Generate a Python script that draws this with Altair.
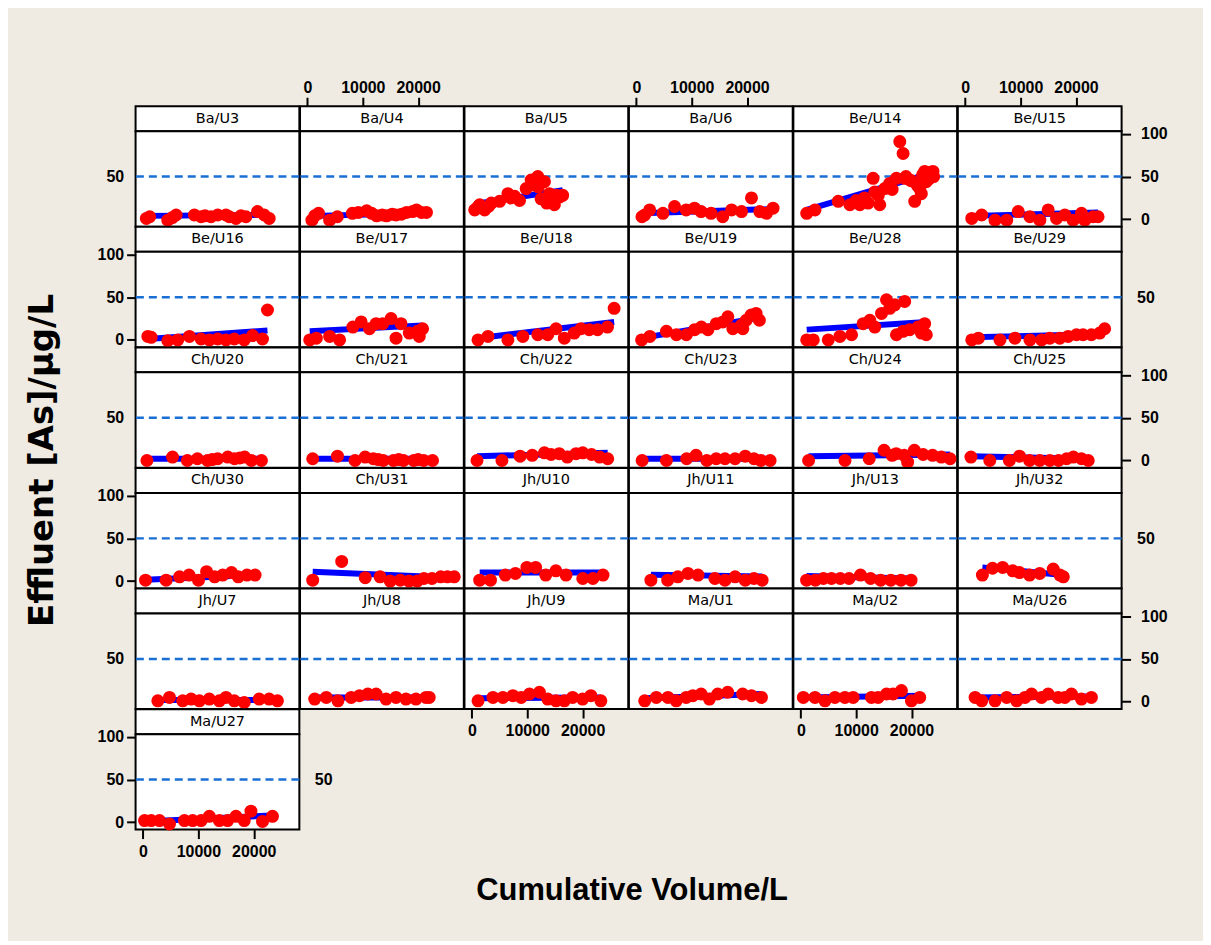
import altair as alt
import pandas as pd

# ---------------- data ----------------
PANELS = ["Ba/U3", "Ba/U4", "Ba/U5", "Ba/U6", "Be/U14", "Be/U15",
          "Be/U16", "Be/U17", "Be/U18", "Be/U19", "Be/U28", "Be/U29",
          "Ch/U20", "Ch/U21", "Ch/U22", "Ch/U23", "Ch/U24", "Ch/U25",
          "Ch/U30", "Ch/U31", "Jh/U10", "Jh/U11", "Jh/U13", "Jh/U32",
          "Jh/U7", "Jh/U8", "Jh/U9", "Ma/U1", "Ma/U2", "Ma/U26",
          "Ma/U27"]

# fitted line value at first and last volume of each unit
FIT_LEFT = [4, 4, 18, 7, 11, 4,
            1, 10, 2, 2, 12, 3,
            2, 2, 5, 2, 5, 5,
            1.5, 11, 10, 7.5, 6, 16,
            2, 5, 4, 4, 5, 5,
            1]
FIT_RIGHT = [5, 7, 34, 12, 55, 8,
             11, 17, 21, 26, 21, 7,
             2, 2, 9, 2, 7, 2,
             7, 4, 10, 5.5, 3, 7,
             2, 5, 5, 9, 7, 6,
             8]

X_TICKS = [0, 10000, 20000]
Y_TICKS = [0, 50, 100]
LIMIT = [50]

vol_ba_u3 = [600, 1200, 4470, 5300, 5980, 9280, 10490, 11200, 12290, 13500, 14990, 15590, 16790, 17700, 18590, 20690, 21900, 22800]
as_ba_u3 = [1, 3, -1, 2, 5, 5, 3, 4, 3, 5, 5, 3, 1, 4, 3, 9, 5, 1]
vol_ba_u4 = [800, 1300, 2000, 4000, 5400, 8100, 9200, 10700, 11600, 12500, 13500, 14300, 15300, 16000, 17000, 17900, 19000, 19700, 20600, 21500]
as_ba_u4 = [-1, 4, 7, -1, 3, 7, 8, 10, 7, 4, 5, 4, 6, 5, 6, 8, 9, 11, 8, 8]
vol_ba_u5 = [500, 1000, 1400, 2300, 3000, 3500, 5000, 6500, 7000, 7700, 8600, 9800, 10700, 11200, 11900, 12000, 12500, 13100, 13500, 14000, 14500, 14900, 15300, 15800, 16400]
as_ba_u5 = [11, 14, 17, 11, 15, 19, 21, 30, 25, 27, 22, 36, 46, 40, 50, 38, 24, 44, 19, 30, 22, 17, 28, 26, 28]
vol_ba_u6 = [1000, 1500, 2400, 4800, 6900, 9000, 10500, 11700, 13500, 15600, 17200, 19000, 20800, 22300, 23500, 24700]
as_ba_u6 = [3, 5, 11, 7, 15, 11, 13, 9, 7, 3, 11, 9, 25, 9, 7, 13]
vol_be_u14 = [1060, 2560, 6760, 8860, 10000, 10660, 11500, 12160, 13060, 13360, 14000, 14260, 15160, 16060, 16500, 17260, 17880, 18480, 18780, 19000, 19680, 20000, 20580, 21000, 21480, 21780, 22000, 22380, 22680, 23280, 23500, 23880, 24000]
as_be_u14 = [7, 11, 21, 17, 22, 17, 25, 19, 48, 32, 28, 17, 36, 42, 35, 48, 91, 77, 48, 50, 46, 45, 21, 40, 36, 30, 52, 56, 44, 48, 55, 56, 50]
vol_be_u15 = [1170, 2970, 5370, 7480, 9570, 11680, 13480, 14980, 16490, 17990, 19490, 21000, 21600, 23100, 24000]
as_be_u15 = [1, 5, -1, -1, 9, 3, -1, 11, 1, 5, -1, 7, -1, 3, 3]
vol_be_u16 = [870, 1480, 4470, 6270, 8380, 10490, 12000, 13490, 15000, 16500, 18290, 19790, 21590, 22490]
as_be_u16 = [4, 3, -1, 0, 4, 1, 0, 1, 0, 1, 0, 5, 1, 35]
vol_be_u17 = [400, 1600, 4000, 5800, 8200, 9700, 11200, 12400, 13600, 15100, 16000, 16900, 18400, 19900, 20800, 20200]
as_be_u17 = [0, 2, 4, 0, 15, 21, 13, 19, 19, 25, 2, 19, 8, 10, 13, 4]
vol_be_u18 = [1100, 2900, 6500, 9200, 11900, 13700, 15200, 16700, 18500, 19700, 21200, 22700, 24500, 25700]
as_be_u18 = [0, 4, 0, 4, 6, 6, 13, 2, 8, 13, 12, 12, 15, 37]
vol_be_u19 = [940, 2430, 5430, 7240, 9040, 10530, 11740, 12930, 14440, 15630, 16530, 17430, 18940, 19240, 19840, 20740, 21640, 22230]
as_be_u19 = [0, 4, 10, 6, 6, 12, 15, 12, 19, 21, 27, 13, 17, 13, 23, 29, 31, 23]
vol_be_u28 = [1060, 2250, 4960, 7060, 9170, 11260, 12470, 13370, 14580, 15480, 16070, 16970, 17280, 18480, 18770, 19680, 21180, 21780, 22380, 22680]
as_be_u28 = [0, 0, 0, 4, 6, 19, 23, 15, 31, 47, 37, 41, 6, 10, 45, 12, 15, 8, 19, 6]
vol_be_u29 = [1170, 2360, 6270, 8970, 11680, 13790, 15280, 17080, 18580, 20090, 21280, 22790, 24290, 25190]
as_be_u29 = [0, 2, 0, 2, 0, 0, 2, 2, 4, 6, 6, 6, 8, 13]
vol_ch_u20 = [700, 5330, 8000, 9830, 11660, 12500, 13490, 15310, 16530, 17500, 18360, 19580, 21400]
as_ch_u20 = [0, 4, 0, 2, 0, 1, 2, 4, 2, 3, 4, 0, 0]
vol_ch_u21 = [940, 5420, 8590, 10420, 11880, 12800, 13710, 15540, 16500, 17360, 19190, 20000, 21020, 22600]
as_ch_u21 = [2, 5, 0, 4, 2, 1, 0, 0, 1, 0, 0, 1, 0, 0]
vol_ch_u22 = [910, 5420, 8700, 10900, 13100, 14310, 15770, 17230, 18820, 20030, 21620, 23080, 24540]
as_ch_u22 = [0, 0, 5, 6, 9, 7, 8, 4, 8, 9, 7, 4, 2]
vol_ch_u23 = [1040, 5420, 9080, 10780, 12730, 14430, 16010, 17840, 19670, 21250, 22470, 24170]
as_ch_u23 = [0, 0, 2, 6, 0, 2, 2, 2, 5, 2, 0, 0]
vol_ch_u24 = [1400, 7980, 12360, 15040, 16500, 17230, 18690, 19300, 20520, 22100, 23810, 25400, 26980]
as_ch_u24 = [0, 0, 2, 12, 6, 8, 6, -2, 12, 7, 6, 4, 2]
vol_ch_u25 = [1020, 4430, 7970, 9800, 11620, 13450, 15280, 16860, 18320, 19540, 21000, 22220]
as_ch_u25 = [4, 0, 0, 5, 0, 0, 0, 0, 2, 4, 2, 0]
vol_ch_u30 = [450, 4170, 6600, 8310, 10020, 11480, 12940, 14400, 15990, 17200, 18790, 20250]
as_ch_u30 = [1, 1, 5, 7, 1, 11, 5, 7, 10, 5, 7, 7]
vol_ch_u31 = [940, 6180, 10440, 13120, 14950, 16770, 18360, 19820, 21040, 22500, 24080, 25300, 26520]
as_ch_u31 = [1, 23, 4, 5, 0, 1, 0, 0, 3, 3, 5, 5, 5]
vol_jh_u10 = [1400, 3350, 6030, 7860, 9930, 11510, 13340, 15170, 17000, 20030, 21860, 23690]
as_jh_u10 = [1, 1, 7, 9, 16, 16, 7, 12, 7, 3, 3, 7]
vol_jh_u11 = [2620, 5660, 7490, 9320, 11140, 14190, 16010, 17840, 19670, 21250, 22720]
as_jh_u11 = [1, 1, 5, 9, 7, 3, 1, 5, 1, 3, 1]
vol_jh_u13 = [1040, 2620, 4080, 5540, 7130, 8710, 10780, 12610, 14430, 16260, 18090, 19920]
as_jh_u13 = [1, 1, 3, 3, 3, 3, 7, 3, 1, 1, 1, 1]
vol_jh_u32 = [3090, 4920, 6750, 8580, 9790, 11620, 13450, 15890, 17110, 17720]
as_jh_u32 = [7, 15, 16, 12, 10, 7, 9, 14, 7, 5]
vol_jh_u7 = [2670, 4780, 7170, 8690, 10180, 11980, 13790, 14990, 16490, 18290, 20990, 22790, 24290]
as_jh_u7 = [1, 5, 1, 3, 1, 3, 1, 5, 1, -1, 3, 3, 1]
vol_jh_u8 = [1300, 3400, 5500, 7900, 9400, 10900, 12400, 14200, 16000, 17800, 19600, 21400, 22000]
as_jh_u8 = [3, 5, 1, 5, 7, 9, 9, 3, 5, 3, 3, 5, 5]
vol_jh_u9 = [1100, 3800, 5600, 7400, 8900, 10400, 12200, 13700, 15200, 16700, 18200, 20000, 21500, 23300]
as_jh_u9 = [1, 5, 5, 7, 5, 9, 11, 3, 1, 1, 5, 3, 7, 1]
vol_ma_u1 = [1500, 3600, 5700, 7200, 9000, 10200, 11700, 13200, 14700, 16500, 19200, 20800, 22600]
as_ma_u1 = [1, 5, 5, 1, 5, 7, 9, 3, 9, 11, 9, 7, 5]
vol_ma_u2 = [450, 2560, 4360, 6160, 7960, 9460, 12770, 13970, 15480, 16670, 18180, 19980, 21480]
as_ma_u2 = [5, 5, 1, 5, 5, 5, 5, 5, 9, 9, 13, 1, 5]
vol_ma_u26 = [1770, 2970, 5370, 7480, 9280, 10780, 11980, 13780, 14980, 16780, 17990, 19190, 20990, 22790]
as_ma_u26 = [5, 1, 1, 5, 1, 5, 9, 5, 9, 5, 5, 9, 3, 5]
vol_ma_u27 = [270, 1480, 2970, 4780, 7480, 8970, 10490, 11980, 13790, 15280, 16790, 18290, 19500, 21590, 23390]
as_ma_u27 = [2, 2, 2, -2, 2, 2, 2, 7, 2, 2, 7, 2, 13, 1, 7]

VOLUMES = [vol_ba_u3, vol_ba_u4, vol_ba_u5, vol_ba_u6, vol_be_u14, vol_be_u15,
           vol_be_u16, vol_be_u17, vol_be_u18, vol_be_u19, vol_be_u28, vol_be_u29,
           vol_ch_u20, vol_ch_u21, vol_ch_u22, vol_ch_u23, vol_ch_u24, vol_ch_u25,
           vol_ch_u30, vol_ch_u31, vol_jh_u10, vol_jh_u11, vol_jh_u13, vol_jh_u32,
           vol_jh_u7, vol_jh_u8, vol_jh_u9, vol_ma_u1, vol_ma_u2, vol_ma_u26,
           vol_ma_u27]
ARSENIC = [as_ba_u3, as_ba_u4, as_ba_u5, as_ba_u6, as_be_u14, as_be_u15,
           as_be_u16, as_be_u17, as_be_u18, as_be_u19, as_be_u28, as_be_u29,
           as_ch_u20, as_ch_u21, as_ch_u22, as_ch_u23, as_ch_u24, as_ch_u25,
           as_ch_u30, as_ch_u31, as_jh_u10, as_jh_u11, as_jh_u13, as_jh_u32,
           as_jh_u7, as_jh_u8, as_jh_u9, as_ma_u1, as_ma_u2, as_ma_u26,
           as_ma_u27]

# ---------------- layout / style ----------------
NCOL = 6
W, SH, PH = 164.33, 25, 95.8
XS = alt.Scale(domain=[-1350, 28250], nice=False, zero=False)
YS = alt.Scale(domain=[-8.6, 103.2], nice=False, zero=False)
TICK_FONT = "Liberation Sans"
BG = "#efebe2"
FRAME = alt.ViewBackground(fill="white", stroke="black", strokeWidth=2)
EMPTY = alt.ViewBackground(fillOpacity=0, strokeOpacity=0)


def axis(orient, values, show_ticks=True, pad=2, fmt=None):
    kw = dict(orient=orient, values=values, grid=False, domain=False, title=None,
              labelFont=TICK_FONT, labelFontSize=16, labelFontWeight="bold",
              labelColor="black", tickColor="black", tickWidth=2, tickSize=9,
              tickOpacity=1 if show_ticks else 0, labelPadding=pad,
              labelFlush=False, labelOverlap=False)
    if fmt:
        kw["format"] = fmt
    return alt.Axis(**kw)


def panel(i):
    r, c = divmod(i, NCOL)
    last_in_row = (c == NCOL - 1) or (i == len(PANELS) - 1)
    pts = pd.DataFrame({"vol": VOLUMES[i], "conc": ARSENIC[i]})
    fit = pd.DataFrame({"vol": [min(VOLUMES[i]), max(VOLUMES[i])],
                        "conc": [FIT_LEFT[i], FIT_RIGHT[i]]})
    left_ax = None
    right_ax = None
    if c == 0:
        left_ax = axis("left", Y_TICKS, True, 3) if r % 2 else axis("left", [50], False, 3)
    if last_in_row:
        right_ax = axis("right", [50], False, 6) if r % 2 else axis("right", Y_TICKS, True, 10)
    bottom = (r == 4 and c in (2, 4)) or (r == 5)
    x_ax = axis("bottom", X_TICKS, True, 5, "d") if bottom else None

    rule = alt.Chart(pd.DataFrame({"limit": LIMIT})).mark_rule(
        color="#1a6fd4", strokeDash=[8, 5], strokeWidth=2.5
    ).encode(y=alt.Y("limit:Q", scale=YS, axis=left_ax))
    line = alt.Chart(fit).mark_line(color="#0000ff", strokeWidth=6).encode(
        x=alt.X("vol:Q", scale=XS, axis=None),
        y=alt.Y("conc:Q", scale=YS, axis=right_ax))
    dots = alt.Chart(pts).mark_circle(size=170, color="#ff0000", opacity=1).encode(
        x=alt.X("vol:Q", scale=XS, axis=x_ax),
        y=alt.Y("conc:Q", scale=YS, axis=None))
    return alt.layer(rule, line, dots).resolve_axis(
        x="independent", y="independent").properties(width=W, height=PH, view=FRAME)


def strip(i):
    r, c = divmod(i, NCOL)
    txt = alt.Chart(pd.DataFrame({"unit": [PANELS[i]]})).mark_text(
        font="DejaVu Sans", fontSize=14.5, color="black").encode(text="unit:N")
    if r == 0 and c % 2 == 1:
        ax = alt.Chart(pd.DataFrame({"vol": VOLUMES[i]})).mark_point(opacity=0).encode(
            x=alt.X("vol:Q", scale=XS, axis=axis("top", X_TICKS, True, 2, "d")))
        return alt.layer(txt, ax).properties(width=W, height=SH, view=FRAME)
    return txt.properties(width=W, height=SH, view=FRAME)


def blank():
    return alt.Chart(pd.DataFrame({"unit": [""]})).mark_text(opacity=0).encode(
        text="unit:N").properties(width=W, height=SH, view=EMPTY)


cells = []
n = len(PANELS)
for r in range((n + NCOL - 1) // NCOL):
    idx = list(range(r * NCOL, min(r * NCOL + NCOL, n)))
    cells += [strip(i) for i in idx]
    cells += [blank() for _ in range(NCOL - len(idx))]
    cells += [panel(i) for i in idx]

grid = alt.concat(*cells, columns=NCOL, spacing=0, bounds="flush",
                  title=alt.TitleParams("Cumulative Volume/L", orient="bottom",
                                        anchor="middle", font="Liberation Sans", fontSize=31,
                                        fontWeight="bold", color="black", offset=16))

chart = alt.hconcat(grid, spacing=0,
                    title=alt.TitleParams("Effluent [As]/µg/L", orient="left",
                                          anchor="middle", font="DejaVu Sans", fontSize=34,
                                          fontWeight="bold", color="black", offset=36, dx=32))

chart = chart.properties(
    background=BG,
    padding={"left": 18, "top": 69, "right": 34, "bottom": 33})

chart.save("out.html", embed_options={"renderer": "svg", "actions": False})
